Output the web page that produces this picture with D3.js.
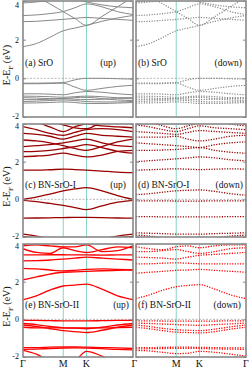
<!DOCTYPE html>
<html>
<head>
<meta charset="utf-8">
<script src="https://cdn.jsdelivr.net/npm/d3@7"></script>
<style>
  body { margin: 0; background: #fff; }
  svg text { font-family: "Liberation Serif", "DejaVu Serif", serif; }
</style>
</head>
<body>
<div id="chart"></div>
<script>
// high symmetry path G-M-K-G
const kTicks = [0, 0.577, 0.910, 1.577];
const kLabels = ["Γ", "M", "K", "Γ"];
const kPoints = [0, 0.192, 0.385, 0.577, 0.743, 0.910, 1.132, 1.355, 1.577];
const yTicks = [-2, 0, 2, 4];

// SrO (up and down look the same)
const sroBands = [
  [1.64, 1.80, 2.12, 2.46, 2.60, 2.74, 2.95, 3.12, 3.25],
  [4.60, 4.25, 3.85, 3.45, 3.10, 2.74, 3.20, 3.70, 4.20],
  [3.25, 3.28, 3.35, 3.45, 3.65, 3.85, 3.70, 3.45, 3.30],
  [2.93, 2.95, 3.00, 3.05, 3.10, 3.15, 3.10, 3.05, 3.00],
  [3.90, 3.95, 4.05, 4.20, 4.10, 3.95, 3.80, 3.70, 3.65],
  [-0.25, -0.25, -0.24, -0.22, -0.08, 0.00, 0.00, -0.02, -0.04],
  [-0.28, -0.28, -0.27, -0.25, -0.45, -0.62, -0.52, -0.42, -0.36],
  [-0.80, -0.80, -0.82, -0.85, -0.75, -0.68, -0.72, -0.80, -0.85],
  [-0.92, -0.93, -0.95, -0.98, -0.95, -0.92, -0.95, -1.00, -1.00],
  [-1.00, -1.02, -1.05, -1.05, -1.08, -1.10, -1.08, -1.05, -1.05],
  [-1.10, -1.10, -1.08, -1.05, -1.00, -0.98, -1.05, -1.12, -1.15],
  [-1.20, -1.18, -1.15, -1.12, -1.15, -1.20, -1.22, -1.22, -1.20],
  [-1.28, -1.27, -1.25, -1.22, -1.25, -1.30, -1.30, -1.28, -1.25]
];

// BN-SrO-I
const bn1Up = [
  [1.55, 1.55, 1.57, 1.60, 1.58, 1.55, 1.50, 1.45, 1.42],
  [2.27, 2.30, 2.35, 2.45, 2.35, 2.25, 2.35, 2.55, 2.60],
  [2.53, 2.55, 2.60, 2.70, 2.80, 2.90, 2.75, 2.55, 2.45],
  [2.80, 2.85, 2.90, 3.00, 3.10, 3.20, 3.00, 2.85, 2.80],
  [3.15, 3.10, 3.00, 2.85, 2.70, 2.60, 2.80, 3.05, 3.20],
  [3.50, 3.45, 3.35, 3.20, 3.35, 3.50, 3.40, 3.35, 3.30],
  [3.86, 3.70, 3.50, 3.40, 3.55, 3.70, 3.75, 3.70, 3.60],
  [4.30, 4.10, 3.85, 3.60, 3.85, 4.00, 3.90, 3.85, 3.80],
  [4.50, 4.40, 4.20, 3.95, 3.80, 3.75, 4.10, 4.30, 4.40],
  [0.00, 0.12, 0.28, 0.45, 0.55, 0.62, 0.45, 0.20, 0.00],
  [-0.05, -0.12, -0.22, -0.32, -0.44, -0.55, -0.35, -0.15, -0.05],
  [-1.00, -0.99, -0.98, -0.97, -0.96, -0.96, -0.97, -0.99, -1.00],
  [-1.85, -1.95, -2.10, -2.20, -2.20, -2.20, -2.10, -1.95, -1.85],
  [-1.98, -2.05, -2.15, -2.30, -2.30, -2.30, -2.20, -2.05, -1.97]
];
const bn1Down = [
  [1.55, 1.57, 1.60, 1.62, 1.60, 1.58, 1.60, 1.62, 1.60],
  [2.00, 2.05, 2.10, 2.15, 2.20, 2.25, 2.20, 2.10, 2.05],
  [2.60, 2.60, 2.62, 2.65, 2.70, 2.75, 2.60, 2.50, 2.45],
  [3.00, 2.95, 2.90, 2.85, 2.80, 2.75, 2.90, 3.00, 3.05],
  [3.30, 3.30, 3.30, 3.35, 3.20, 3.10, 3.20, 3.35, 3.40],
  [3.60, 3.55, 3.50, 3.45, 3.55, 3.65, 3.60, 3.55, 3.50],
  [3.95, 3.85, 3.70, 3.60, 3.75, 3.90, 3.80, 3.75, 3.70],
  [4.30, 4.10, 3.90, 3.75, 3.90, 4.05, 4.20, 4.00, 3.90],
  [0.25, 0.30, 0.38, 0.45, 0.48, 0.50, 0.42, 0.30, 0.22],
  [-0.08, -0.08, -0.08, -0.09, -0.09, -0.09, -0.08, -0.08, -0.08],
  [-0.92, -0.92, -0.93, -0.93, -0.93, -0.93, -0.93, -0.92, -0.92],
  [-1.78, -1.80, -1.82, -1.85, -1.85, -1.85, -1.82, -1.80, -1.78],
  [-1.90, -1.95, -2.05, -2.10, -2.10, -2.10, -2.05, -1.95, -1.90]
];

// BN-SrO-II
const bn2Up = [
  [1.05, 1.25, 1.55, 1.77, 1.82, 1.87, 1.60, 1.25, 1.05],
  [2.10, 2.25, 2.40, 2.50, 2.52, 2.55, 2.58, 2.60, 2.62],
  [2.71, 2.68, 2.62, 2.57, 2.60, 2.65, 2.68, 2.65, 2.63],
  [3.10, 3.12, 3.15, 3.20, 3.25, 3.30, 3.25, 3.20, 3.15],
  [3.42, 3.42, 3.43, 3.43, 3.42, 3.42, 3.41, 3.42, 3.42],
  [3.75, 3.55, 3.50, 3.80, 3.65, 3.55, 3.70, 3.85, 3.80],
  [3.90, 3.95, 3.90, 3.85, 3.85, 3.95, 3.60, 3.65, 3.90],
  [-0.06, -0.06, -0.07, -0.08, -0.08, -0.08, -0.07, -0.06, -0.06],
  [-0.22, -0.28, -0.38, -0.45, -0.47, -0.50, -0.42, -0.30, -0.22],
  [-0.30, -0.38, -0.50, -0.60, -0.65, -0.70, -0.58, -0.42, -0.30],
  [-0.42, -0.45, -0.45, -0.45, -0.45, -0.45, -0.45, -0.44, -0.42],
  [-1.50, -1.50, -1.48, -1.47, -1.47, -1.48, -1.50, -1.52, -1.55],
  [-1.60, -1.58, -1.55, -1.53, -1.52, -1.53, -1.56, -1.60, -1.62],
  [-1.65, -1.85, -2.20, -2.40, -2.20, -1.70, -1.95, -2.30, -2.40]
];
const bn2Down = [
  [1.10, 1.30, 1.55, 1.73, 1.80, 1.84, 1.60, 1.30, 1.10],
  [2.45, 2.50, 2.55, 2.60, 2.62, 2.65, 2.60, 2.55, 2.50],
  [2.95, 2.95, 2.98, 3.00, 2.98, 2.95, 2.95, 2.95, 2.95],
  [3.30, 3.28, 3.25, 3.20, 3.30, 3.40, 3.45, 3.50, 3.55],
  [3.60, 3.60, 3.65, 3.70, 3.60, 3.50, 3.60, 3.75, 3.80],
  [3.85, 3.75, 3.70, 3.85, 3.90, 3.80, 3.90, 3.95, 3.95],
  [-0.08, -0.08, -0.09, -0.09, -0.09, -0.09, -0.09, -0.08, -0.08],
  [-0.20, -0.22, -0.25, -0.28, -0.30, -0.32, -0.28, -0.24, -0.20],
  [-0.30, -0.38, -0.48, -0.55, -0.58, -0.60, -0.52, -0.40, -0.30],
  [-0.42, -0.50, -0.60, -0.68, -0.70, -0.72, -0.65, -0.52, -0.42],
  [-1.50, -1.50, -1.49, -1.48, -1.48, -1.49, -1.50, -1.52, -1.52],
  [-1.57, -1.56, -1.55, -1.54, -1.54, -1.55, -1.57, -1.58, -1.60],
  [-1.65, -1.68, -1.75, -1.82, -1.80, -1.70, -1.75, -1.85, -1.95]
];

const panels = [
  { bands: sroBands, spin: "up",   color: "#888888", label: "(a) SrO",       row: 0, col: 0, spinX: 116, w: 1.0 },
  { bands: sroBands, spin: "down", color: "#888888", label: "(b) SrO",       row: 0, col: 1, spinX: 242, w: 1.2 },
  { bands: bn1Up,    spin: "up",   color: "#990000", label: "(c) BN-SrO-I",  row: 1, col: 0, spinX: 126, w: 1.3 },
  { bands: bn1Down,  spin: "down", color: "#990000", label: "(d) BN-SrO-I",  row: 1, col: 1, spinX: 243, w: 1.3 },
  { bands: bn2Up,    spin: "up",   color: "#ff0000", label: "(e) BN-SrO-II", row: 2, col: 0, spinX: 129, w: 1.3 },
  { bands: bn2Down,  spin: "down", color: "#ff0000", label: "(f) BN-SrO-II", row: 2, col: 1, spinX: 241, w: 1.3 }
];

const W = 249, H = 369;
const cols = [[23, 133], [136, 246]];
const rows = [[1, 117], [124, 237], [244, 357]];

const svg = d3.select("#chart").append("svg")
  .attr("width", W).attr("height", H);

const line = (x, y) => d3.line()
  .x((d, i) => x(kPoints[i]))
  .y(d => y(d))
  .curve(d3.curveMonotoneX);

panels.forEach((p, idx) => {
  const [x0, x1] = cols[p.col];
  const [y0, y1] = rows[p.row];
  const x = d3.scaleLinear().domain([0, 1.577]).range([x0, x1]);
  const y = d3.scaleLinear().domain([-2, 4]).range([y1, y0]);

  svg.append("clipPath").attr("id", "clip" + idx)
    .append("rect").attr("x", x0).attr("y", y0)
    .attr("width", x1 - x0).attr("height", y1 - y0);

  const g = svg.append("g");
  const inner = g.append("g").attr("clip-path", `url(#clip${idx})`);

  // M, K lines
  inner.selectAll(".kl").data(kTicks.slice(1, 3)).enter().append("line")
    .attr("x1", d => x(d)).attr("x2", d => x(d))
    .attr("y1", y0).attr("y2", y1)
    .attr("stroke", "#86d6c6").attr("stroke-width", 1);

  // fermi level
  inner.append("line")
    .attr("x1", x0).attr("x2", x1).attr("y1", y(0)).attr("y2", y(0))
    .attr("stroke", "#999").attr("stroke-width", 0.7)
    .attr("stroke-dasharray", "2,1.5");

  inner.selectAll(".band").data(p.bands).enter().append("path")
    .attr("d", line(x, y))
    .attr("fill", "none")
    .attr("stroke", p.color)
    .attr("stroke-width", p.w)
    .attr("stroke-dasharray", p.spin == "up" ? null : "1.2,1.4");

  // ticks inside
  const left = g.append("g").attr("transform", `translate(${x0},0)`)
    .call(d3.axisLeft(y).tickValues(yTicks).tickSize(-3).tickFormat(""));
  const right = g.append("g").attr("transform", `translate(${x1},0)`)
    .call(d3.axisRight(y).tickValues(yTicks).tickSize(-3).tickFormat(""));
  [left, right].forEach(a => {
    a.select(".domain").remove();
    a.selectAll("line").attr("stroke", "#888");
  });

  if (p.col == 0) {
    // nudge end labels so neighbouring panels' "-2" and "4" don't collide
    g.selectAll(".yt").data(yTicks).enter().append("text")
      .attr("x", 19)
      .attr("y", d => Math.max(8, y(d) + 3 + (d == 4 ? 1.5 : d == -2 ? -1.5 : 0)))
      .attr("text-anchor", "end").attr("font-size", 8).attr("fill", "#111")
      .text(d => d);
  }

  // frame
  g.append("rect").attr("x", x0).attr("y", y0)
    .attr("width", x1 - x0).attr("height", y1 - y0)
    .attr("fill", "none").attr("stroke", "#888").attr("stroke-width", 1.6);

  // labels
  g.append("text").attr("x", x0 + 2).attr("y", y(0.62))
    .attr("font-size", 9.5).attr("fill", "#111").text(p.label);
  g.append("text").attr("x", p.spinX).attr("y", y(0.62))
    .attr("font-size", 9.5).attr("fill", "#111").attr("text-anchor", "end")
    .text("(" + p.spin + ")");

  if (p.col == 0) {
    const t = svg.append("text")
      .attr("transform", `translate(10,${(y0 + y1) / 2 + 6}) rotate(-90)`)
      .attr("text-anchor", "middle").attr("font-size", 10).attr("fill", "#111");
    t.append("tspan").text("E-E");
    t.append("tspan").attr("font-size", 7).attr("dy", 2.5).text("F");
    t.append("tspan").attr("dy", -2.5).text(" (eV)");
  }
});

// bottom k labels
const kLabelX = [];
cols.forEach(([x0, x1], c) => {
  const x = d3.scaleLinear().domain([0, 1.577]).range([x0, x1]);
  kTicks.forEach((k, i) => {
    if (c == 1 && i == 0) return;
    let px = x(k);
    if (c == 0 && i == 3) px = (cols[0][1] + cols[1][0]) / 2;
    kLabelX.push({ px, t: kLabels[i] });
  });
});
svg.selectAll(".kt").data(kLabelX).enter().append("text")
  .attr("x", d => d.px).attr("y", 367)
  .attr("text-anchor", "middle").attr("font-size", 10).attr("fill", "#111")
  .text(d => d.t);
</script>
</body>
</html>
